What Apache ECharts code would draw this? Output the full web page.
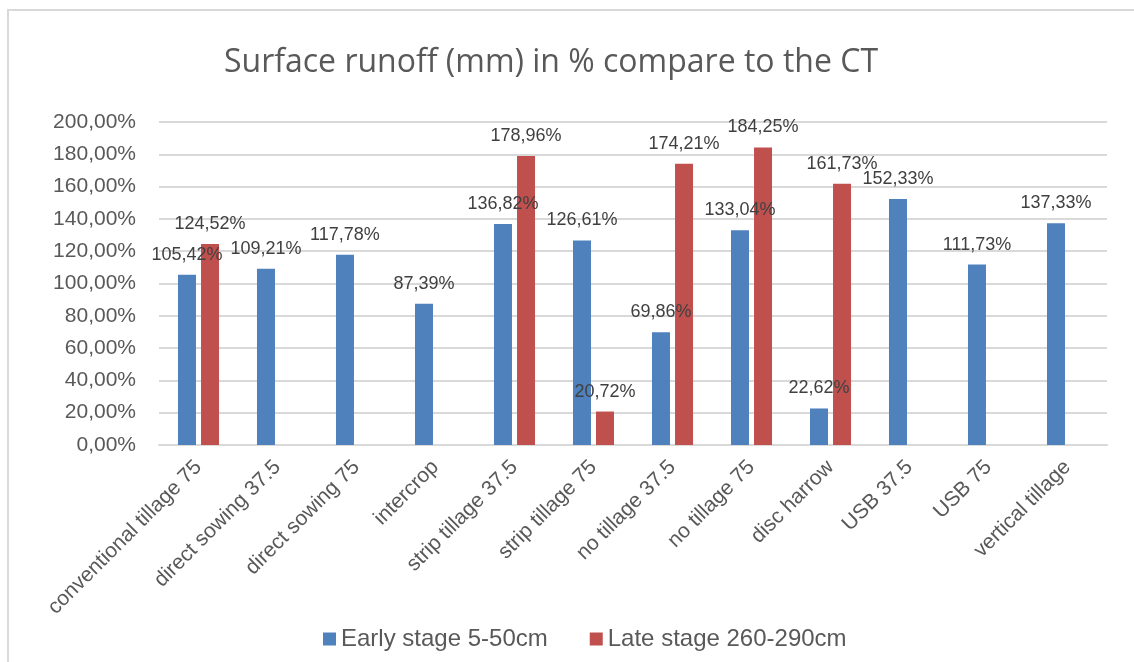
<!DOCTYPE html>
<html>
<head>
<meta charset="utf-8">
<script src="https://cdn.jsdelivr.net/npm/echarts@6/dist/echarts.min.js"></script>
<style>
  html, body { margin: 0; padding: 0; background: #fff; }
  #chart { width: 1134px; height: 662px; }
</style>
</head>
<body>
<div id="chart"></div>
<script>
var categories = ['conventional tillage 75', 'direct sowing 37.5', 'direct sowing 75', 'intercrop',
    'strip tillage 37.5', 'strip tillage 75', 'no tillage 37.5', 'no tillage 75',
    'disc harrow', 'USB 37.5', 'USB 75', 'vertical tillage'];
var earlyStage = [105.42, 109.21, 117.78, 87.39, 136.82, 126.61, 69.86, 133.04, 22.62, 152.33, 111.73, 137.33];
var lateStage = [124.52, null, null, null, 178.96, 20.72, 174.21, 184.25, 161.73, null, null, null];
var yTicks = [0, 20, 40, 60, 80, 100, 120, 140, 160, 180, 200];

function pct(v) {
    return v.toFixed(2).replace('.', ',') + '%';
}

var chart = echarts.init(document.getElementById('chart'));
var labelStyle = {
    show: true,
    position: 'top',
    distance: 11,
    color: '#404040',
    fontFamily: 'Liberation Sans, Arial, sans-serif',
    fontSize: 18,
    formatter: function (p) { return pct(p.value); }
};
option = {
    animation: false,
    title: {
        text: 'Surface runoff (mm) in % compare to the CT',
        left: 546,
        textAlign: 'center',
        top: 42,
        textStyle: {
            color: '#595959',
            fontFamily: 'Open Sans, sans-serif',
            fontWeight: 'normal',
            fontSize: 32
        }
    },
    graphic: [{
        type: 'rect',
        shape: { x: 8, y: 10, width: 1140, height: 700 },
        style: { fill: 'none', stroke: '#D9D9D9', lineWidth: 2 },
        silent: true
    }],
    legend: {
        top: 622,
        left: 318,
        itemWidth: 13,
        itemHeight: 13,
        itemGap: 42,
        icon: 'rect',
        textStyle: {
            color: '#595959',
            fontFamily: 'Liberation Sans, Arial, sans-serif',
            fontSize: 24
        },
        data: ['Early stage 5-50cm', 'Late stage 260-290cm']
    },
    grid: {
        left: 159,
        right: 27,
        top: 122,
        bottom: 217
    },
    xAxis: {
        type: 'category',
        data: categories,
        axisLine: { lineStyle: { color: '#D9D9D9', width: 2 } },
        axisTick: { show: false },
        axisLabel: {
            rotate: 45,
            interval: 0,
            margin: 19,
            color: '#595959',
            fontFamily: 'Liberation Sans, Arial, sans-serif',
            fontSize: 21
        }
    },
    yAxis: {
        type: 'value',
        min: yTicks[0],
        max: yTicks[yTicks.length - 1],
        interval: 20,
        axisLine: { show: false },
        axisTick: { show: false },
        splitLine: { lineStyle: { color: '#D9D9D9', width: 2 } },
        axisLabel: {
            margin: 23,
            color: '#595959',
            fontFamily: 'Liberation Sans, Arial, sans-serif',
            fontSize: 21,
            formatter: function (v) { return pct(v); }
        }
    },
    series: [
        {
            name: 'Early stage 5-50cm',
            type: 'bar',
            data: earlyStage,
            barWidth: 18,
            barGap: '28%',
            itemStyle: { color: '#4F81BD' },
            label: labelStyle
        },
        {
            name: 'Late stage 260-290cm',
            type: 'bar',
            data: lateStage,
            barWidth: 18,
            itemStyle: { color: '#C0504D' },
            label: labelStyle
        }
    ]
};
chart.setOption(option);
</script>
</body>
</html>
